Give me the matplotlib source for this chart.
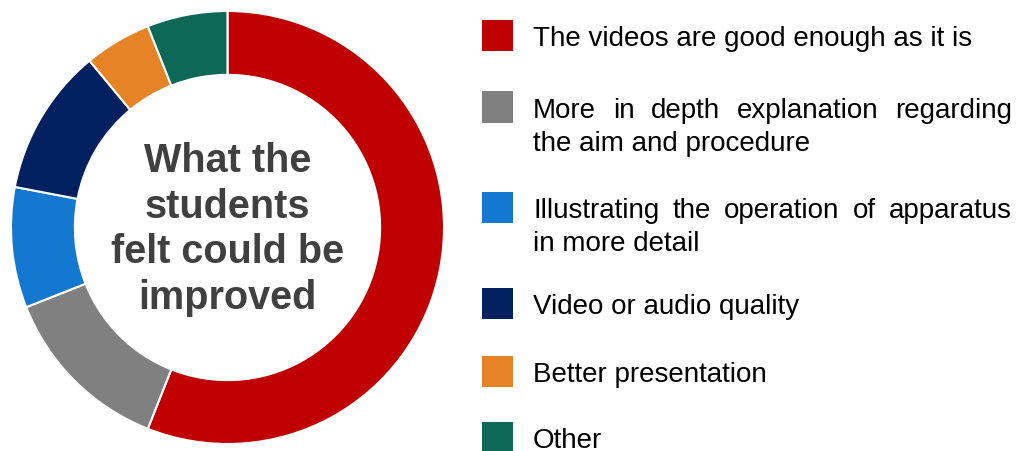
import matplotlib
matplotlib.use("Agg")
import matplotlib.pyplot as plt
from matplotlib.patches import Rectangle

categories = [
    "The videos are good enough as it is",
    "More in depth explanation regarding the aim and procedure",
    "Illustrating the operation of apparatus in more detail",
    "Video or audio quality",
    "Better presentation",
    "Other",
]
# legend line breaks as in the reference
legend_lines = [
    ["The videos are good enough as it is"],
    ["More in depth explanation regarding", "the aim and procedure"],
    ["Illustrating the operation of apparatus", "in more detail"],
    ["Video or audio quality"],
    ["Better presentation"],
    ["Other"],
]
values = [56, 13, 9, 11, 5, 6]
colors = ["#C00000", "#808080", "#1478D0", "#002060", "#E68326", "#0D6857"]
center_title = "What the\nstudents\nfelt could be\nimproved"

W, H = 1016, 452
fig = plt.figure(figsize=(W / 100, H / 100), dpi=100)
plt.rcParams["font.family"] = ["Liberation Sans", "DejaVu Sans"]

# donut
cx, cy, r = 227.5, 228.5, 216.5
ax = fig.add_axes([(cx - r) / W, (H - cy - r) / H, 2 * r / W, 2 * r / H])
ax.pie(values, colors=colors, startangle=90, counterclock=False, radius=1.0,
       wedgeprops=dict(width=0.295, edgecolor="white", linewidth=1.5))
ax.set_xlim(-1, 1)
ax.set_ylim(-1, 1)
ax.set_aspect("equal")
ax.axis("off")
ax.text(0, -0.005, center_title, ha="center", va="center", fontsize=28.5,
        fontweight="bold", color="#404040", linespacing=1.25)

# legend
sq_x0, sq_size = 482, 31
text_x0, text_x1 = 533, 1012
row_y = [36, 108, 208, 304, 372, 438]
line_gap = 33
fs = 20
fig.canvas.draw()
renderer = fig.canvas.get_renderer()

def px(x, y):
    return x / W, 1 - y / H

for i, lines in enumerate(legend_lines):
    y = row_y[i]
    fig.add_artist(Rectangle(((sq_x0) / W, 1 - (y + sq_size / 2) / H),
                             sq_size / W, sq_size / H,
                             transform=fig.transFigure, facecolor=colors[i],
                             edgecolor="none"))
    for j, line in enumerate(lines):
        ly = y + j * line_gap
        justify = len(lines) > 1 and j < len(lines) - 1
        if not justify:
            fig.text(*px(text_x0, ly), line, ha="left", va="center_baseline",
                     fontsize=fs, color="black")
        else:
            words = line.split(" ")
            arts = []
            widths = []
            for wd in words:
                t = fig.text(*px(text_x0, ly), wd, ha="left",
                             va="center_baseline", fontsize=fs, color="black")
                arts.append(t)
                widths.append(t.get_window_extent(renderer).width)
            gap = (text_x1 - text_x0 - sum(widths)) / (len(words) - 1)
            x = text_x0
            for t, wdt in zip(arts, widths):
                t.set_x(x / W)
                x += wdt + gap

fig.savefig("out.png", dpi=100)
